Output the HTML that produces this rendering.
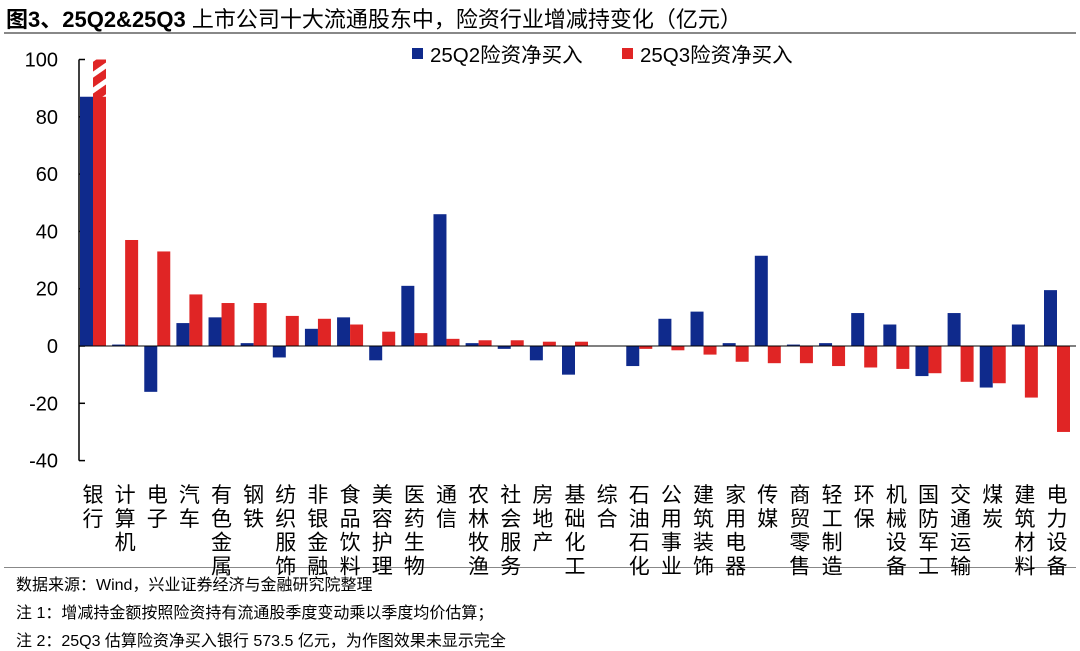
<!DOCTYPE html>
<html><head><meta charset="utf-8"><style>
body{margin:0;background:#fff;font-family:"Liberation Sans","Noto Sans CJK SC",sans-serif;}
#wrap{position:relative;width:1080px;height:651px;overflow:hidden;}
.t{position:absolute;white-space:nowrap;color:#000;}
</style></head><body>
<div id="wrap">
<div class="t" style="left:6px;top:2px;font-size:22px;font-weight:bold;">图3、25Q2&amp;25Q3 <span style="font-weight:normal">上市公司十大流通股东中，险资行业增减持变化（亿元）</span></div>
<div style="position:absolute;left:4px;top:32px;width:1072px;height:2px;background:#888;"></div>
<div style="position:absolute;left:4px;top:567px;width:1072px;height:1px;background:#888;"></div>
<svg id="chart" width="1080" height="651" style="position:absolute;left:0;top:0"></svg>
<div class="t" style="left:16px;top:571px;font-size:16px;">数据来源：Wind，兴业证券经济与金融研究院整理</div>
<div class="t" style="left:16px;top:599px;font-size:16px;">注 1：增减持金额按照险资持有流通股季度变动乘以季度均价估算；</div>
<div class="t" style="left:16px;top:627px;font-size:16px;">注 2：25Q3 估算险资净买入银行 573.5 亿元，为作图效果未显示完全</div>
</div>
<script>
const categories=["银行","计算机","电子","汽车","有色金属","钢铁","纺织服饰","非银金融","食品饮料","美容护理","医药生物","通信","农林牧渔","社会服务","房地产","基础化工","综合","石油石化","公用事业","建筑装饰","家用电器","传媒","商贸零售","轻工制造","环保","机械设备","国防军工","交通运输","煤炭","建筑材料","电力设备"];
const q2Values=[87,0.5,-16,8,10,1,-4,6,10,-5,21,46,1,-1,-5,-10,0,-7,9.5,12,1,31.5,0.5,1,11.5,7.5,-10.5,11.5,-14.5,7.5,19.5];
const q3Values=[100,37,33,18,15,15,10.5,9.5,7.5,5,4.5,2.5,2,2,1.5,1.5,0,-1,-1.5,-3,-5.5,-6,-6,-7,-7.5,-8,-9.5,-12.5,-13,-18,-30];
const yTicks=[100,80,60,40,20,0,-20,-40];
const seriesNames=["25Q2险资净买入","25Q3险资净买入"];
</script>
<script>
const svg=document.getElementById('chart');
const NS='http://www.w3.org/2000/svg';
const n=categories.length;
const x0=93, x1=1057;
const step=(x1-x0)/(n-1);
const y=v=>346-v*2.865;
const xc=i=>x0+i*step;
function mk(tag,attrs){const e=document.createElementNS(NS,tag);for(const k in attrs)e.setAttribute(k,attrs[k]);svg.appendChild(e);return e;}
const defs=mk('defs',{});
defs.innerHTML='<pattern id="hatch" patternUnits="userSpaceOnUse" width="13" height="13" patternTransform="rotate(-35)"><rect width="13" height="13" fill="#fff"/><rect width="13" height="8" fill="#e02525"/></pattern>';
let ax=mk('line',{x1:79,y1:y(100),x2:79,y2:y(-40),stroke:'#000','stroke-width':1.5});


yTicks.forEach(t=>{
  const l=mk('line',{x1:79,y1:y(t),x2:85,y2:y(t),stroke:'#000','stroke-width':1.5});
  
  
  const tx=mk('text',{x:58,y:y(t)+7,'text-anchor':'end','font-size':20,'font-family':'Liberation Sans'});
  tx.textContent=t;
  
  
});
const bw=13;
categories.forEach((c,i)=>{
  const cx=xc(i);
  [[q2Values[i],'#0f2a8c',cx-bw],[q3Values[i],'#e02525',cx]].forEach(([v,col,bx],s)=>{
    if(v===undefined)return;
    const r=mk('rect',{x:bx,y:Math.min(y(v),y(0)),width:bw,height:Math.abs(y(v)-y(0)),fill:col});
    
    
    if(s===1&&v>=100){
      const h=mk('rect',{x:bx,y:y(100),width:bw,height:y(87)-y(100),fill:'url(#hatch)'});
      
      
    }
  });
  [...c].forEach((ch,k)=>{
    const t=mk('text',{x:cx,y:502+k*23.8,'text-anchor':'middle','font-size':21,'font-family':'Noto Sans CJK SC'});
    t.textContent=ch;
    
    
  });
});
let z=mk('line',{x1:79,y1:y(0),x2:1076,y2:y(0),stroke:'#000','stroke-width':1});


[['#0f2a8c',412],['#e02525',622]].forEach(([col,lx],i)=>{
  const r=mk('rect',{x:lx,y:48,width:11,height:11,fill:col});
  
  
  const t=mk('text',{x:lx+18,y:62,'font-size':20.5,'font-family':'Liberation Sans, Noto Sans CJK SC'});
  t.textContent=seriesNames[i];
  
  
});
</script>
</body></html>
